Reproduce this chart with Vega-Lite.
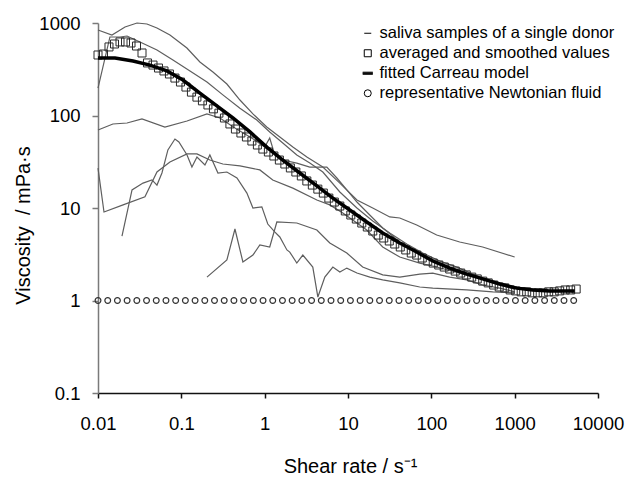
{
 "$schema": "https://vega.github.io/schema/vega-lite/v6.json",
 "width": 500, "height": 370,
 "autosize": "none",
 "padding": {"left": 98, "top": 23, "right": 29, "bottom": 84},
 "background": "white",
 "config": {
  "view": {"stroke": null},
  "font": "Liberation Sans",
  "axis": {"grid": false, "labelFont": "Liberation Sans", "titleFont": "Liberation Sans", "labelColor": "#000", "titleColor": "#000", "titleFontWeight": "normal", "labelFlush": false, "labelOverlap": false}
 },
 "datasets": {
  "samples": [
   {"s":"A","x":0.01,"y":840},{"s":"A","x":0.0147,"y":741},{"s":"A","x":0.0211,"y":905},{"s":"A","x":0.0294,"y":1000},{"s":"A","x":0.0387,"y":975},{"s":"A","x":0.051,"y":883},{"s":"A","x":0.073,"y":741},{"s":"A","x":0.1167,"y":537},{"s":"A","x":0.167,"y":379},{"s":"A","x":0.2394,"y":295},{"s":"A","x":0.352,"y":219},{"s":"A","x":0.505,"y":147},{"s":"A","x":0.723,"y":104},{"s":"A","x":1.06,"y":75.1},{"s":"A","x":1.52,"y":58.6},{"s":"A","x":2.18,"y":45.6},{"s":"A","x":3.21,"y":35.6},{"s":"A","x":4.99,"y":27.7},{"s":"A","x":7.98,"y":18.6},{"s":"A","x":12.8,"y":12.2},{"s":"A","x":19.8,"y":10.0},{"s":"A","x":31.7,"y":8.0},{"s":"A","x":41.8,"y":7.8},{"s":"A","x":66.8,"y":6.55},{"s":"A","x":116,"y":5.1},{"s":"A","x":219,"y":4.29},{"s":"A","x":413,"y":3.79},{"s":"A","x":1000,"y":2.95},
   {"s":"B","x":0.01,"y":198},{"s":"B","x":0.0139,"y":706},{"s":"B","x":0.0184,"y":706},{"s":"B","x":0.0223,"y":723},{"s":"B","x":0.0319,"y":624},{"s":"B","x":0.051,"y":511},{"s":"B","x":0.0793,"y":398},{"s":"B","x":0.127,"y":303},{"s":"B","x":0.203,"y":230},{"s":"B","x":0.315,"y":167},{"s":"B","x":0.505,"y":120},{"s":"B","x":0.805,"y":89.3},{"s":"B","x":1.15,"y":66.4},{"s":"B","x":1.65,"y":50.5},{"s":"B","x":2.43,"y":37.4},{"s":"B","x":3.48,"y":30.6},{"s":"B","x":4.99,"y":24.5},{"s":"B","x":7.98,"y":14.9},{"s":"B","x":12.8,"y":10.0},{"s":"B","x":19.8,"y":7.23},{"s":"B","x":31.7,"y":5.37},{"s":"B","x":50.7,"y":4.08},{"s":"B","x":78.9,"y":3.26},{"s":"B","x":126,"y":2.67},{"s":"B","x":202,"y":2.3},{"s":"B","x":313,"y":1.93},{"s":"B","x":501,"y":1.62},{"s":"B","x":1000,"y":1.33},
   {"s":"D","x":0.01,"y":69.7},{"s":"D","x":0.0151,"y":80.9},{"s":"D","x":0.0223,"y":83.0},{"s":"D","x":0.0337,"y":91.7},{"s":"D","x":0.0635,"y":75.1},{"s":"D","x":0.117,"y":87.3},{"s":"D","x":0.203,"y":104},{"s":"D","x":0.29,"y":94},{"s":"D","x":0.44,"y":73.3},{"s":"D","x":0.764,"y":54.3},{"s":"D","x":1.0,"y":45.6},{"s":"D","x":1.15,"y":57.1},{"s":"D","x":1.29,"y":40.3},{"s":"D","x":1.65,"y":33.0},{"s":"D","x":2.43,"y":30.6},{"s":"D","x":3.48,"y":27.7},{"s":"D","x":5.57,"y":27.7},{"s":"D","x":7.35,"y":21.1},{"s":"D","x":9.68,"y":15.7},{"s":"D","x":12.8,"y":11.6},{"s":"D","x":16.8,"y":9.06},{"s":"D","x":26.1,"y":6.08},{"s":"D","x":41.8,"y":4.29},{"s":"D","x":66.8,"y":3.34},{"s":"D","x":104,"y":2.74},{"s":"D","x":166,"y":2.3},{"s":"D","x":266,"y":1.98},{"s":"D","x":413,"y":1.71},{"s":"D","x":661,"y":1.47},{"s":"D","x":1000,"y":1.33},
   {"s":"E","x":0.01,"y":27.0},{"s":"E","x":0.0118,"y":9.06},{"s":"E","x":0.02,"y":10.8},{"s":"E","x":0.0366,"y":13.2},{"s":"E","x":0.051,"y":24.5},{"s":"E","x":0.073,"y":31.4},{"s":"E","x":0.117,"y":38.4},{"s":"E","x":0.154,"y":38.4},{"s":"E","x":0.22,"y":33.0},{"s":"E","x":0.315,"y":29.9},{"s":"E","x":0.505,"y":28.5},{"s":"E","x":0.875,"y":25.8},{"s":"E","x":1.25,"y":20.1},{"s":"E","x":2.18,"y":16.4},{"s":"E","x":4.23,"y":12.2},{"s":"E","x":6.05,"y":10.8},{"s":"E","x":8.66,"y":8.83},{"s":"E","x":16.8,"y":5.78},{"s":"E","x":26.1,"y":3.79},{"s":"E","x":41.8,"y":2.95},{"s":"E","x":72.6,"y":2.54},{"s":"E","x":104,"y":2.36},{"s":"E","x":266,"y":1.89},{"s":"E","x":661,"y":1.55},{"s":"E","x":1000,"y":1.4},
   {"s":"F","x":0.0194,"y":4.98},{"s":"F","x":0.0256,"y":15.7},{"s":"F","x":0.0347,"y":18.6},{"s":"F","x":0.0444,"y":20.1},{"s":"F","x":0.051,"y":17.7},{"s":"F","x":0.0585,"y":23.9},{"s":"F","x":0.069,"y":42.4},{"s":"F","x":0.0838,"y":55.7},{"s":"F","x":0.0935,"y":51.7},{"s":"F","x":0.117,"y":37.4},{"s":"F","x":0.134,"y":27.7},{"s":"F","x":0.154,"y":35.6},{"s":"F","x":0.192,"y":29.2},{"s":"F","x":0.22,"y":37.4},{"s":"F","x":0.275,"y":23.9},{"s":"F","x":0.352,"y":24.5},{"s":"F","x":0.465,"y":21.1},{"s":"F","x":0.612,"y":14.5},{"s":"F","x":0.723,"y":10.0},{"s":"F","x":0.925,"y":10.3},{"s":"F","x":1.09,"y":6.71},{"s":"F","x":1.32,"y":5.51},{"s":"F","x":1.52,"y":4.86},{"s":"F","x":1.85,"y":3.52},{"s":"F","x":2.0,"y":3.34},{"s":"F","x":2.43,"y":2.54},{"s":"F","x":2.87,"y":3.1},{"s":"F","x":3.78,"y":2.3},{"s":"F","x":4.35,"y":1.09},{"s":"F","x":5.27,"y":1.79},{"s":"F","x":6.58,"y":2.3},{"s":"F","x":7.98,"y":2.03},{"s":"F","x":9.68,"y":2.24},{"s":"F","x":12.8,"y":1.98},{"s":"F","x":18.3,"y":1.79},{"s":"F","x":26.1,"y":1.67},{"s":"F","x":41.8,"y":1.55},{"s":"F","x":72.6,"y":1.4},{"s":"F","x":104,"y":1.36},{"s":"F","x":266,"y":1.3},{"s":"F","x":545,"y":1.24},{"s":"F","x":1000,"y":1.21},
   {"s":"G","x":0.203,"y":1.79},{"s":"G","x":0.352,"y":2.74},{"s":"G","x":0.44,"y":5.93},{"s":"G","x":0.548,"y":2.61},{"s":"G","x":0.723,"y":3.1},{"s":"G","x":0.875,"y":3.98},{"s":"G","x":1.15,"y":3.79},{"s":"G","x":1.4,"y":7.06},{"s":"G","x":2.43,"y":6.88},{"s":"G","x":4.23,"y":5.78},{"s":"G","x":6.05,"y":4.19},{"s":"G","x":9.68,"y":3.26},{"s":"G","x":15.0,"y":2.3},{"s":"G","x":26.1,"y":1.89},{"s":"G","x":41.8,"y":1.79},{"s":"G","x":72.6,"y":1.93},{"s":"G","x":104,"y":1.98},{"s":"G","x":166,"y":1.79},{"s":"G","x":266,"y":1.67},{"s":"G","x":413,"y":1.47},{"s":"G","x":661,"y":1.36},{"s":"G","x":1000,"y":1.24}
  ],
  "averaged": [
   {"x":0.01,"y":451},{"x":0.01164,"y":462},{"x":0.01355,"y":551},{"x":0.01578,"y":593},{"x":0.01837,"y":624},{"x":0.02138,"y":624},{"x":0.02489,"y":608},{"x":0.02897,"y":564},{"x":0.03373,"y":474},{"x":0.03926,"y":370},
   {"x":0.0457,"y":351},{"x":0.0532,"y":326},{"x":0.0619,"y":303},{"x":0.072,"y":281},{"x":0.0838,"y":254},{"x":0.0976,"y":230},{"x":0.1136,"y":203},{"x":0.1322,"y":179},{"x":0.1539,"y":158},{"x":0.1791,"y":144},
   {"x":0.2085,"y":130},{"x":0.2427,"y":118},{"x":0.2825,"y":106},{"x":0.3289,"y":94},{"x":0.3828,"y":81},{"x":0.4456,"y":71.4},{"x":0.5187,"y":64.7},{"x":0.6038,"y":58.6},{"x":0.7028,"y":53.0},{"x":0.818,"y":48.0},
   {"x":0.952,"y":43.4},{"x":1.108,"y":40.3},{"x":1.29,"y":36.5},{"x":1.501,"y":33.0},{"x":1.747,"y":29.9},{"x":2.034,"y":27.1},{"x":2.367,"y":24.5},{"x":2.755,"y":22.2},{"x":3.207,"y":19.6},{"x":3.733,"y":17.7},
   {"x":4.345,"y":16.0},{"x":5.058,"y":14.5},{"x":5.888,"y":12.8},{"x":6.853,"y":11.6},{"x":7.977,"y":10.5},{"x":9.285,"y":9.29},{"x":10.81,"y":8.4},{"x":12.58,"y":7.6},{"x":14.64,"y":6.88},{"x":17.04,"y":6.23},
   {"x":19.84,"y":5.64},{"x":23.09,"y":5.1},{"x":26.88,"y":4.74},{"x":31.29,"y":4.4},{"x":36.42,"y":4.08},{"x":42.39,"y":3.79},{"x":49.35,"y":3.52},{"x":57.44,"y":3.26},{"x":66.86,"y":3.1},{"x":77.83,"y":2.88},
   {"x":90.59,"y":2.67},{"x":105.4,"y":2.54},{"x":122.7,"y":2.42},{"x":142.9,"y":2.3},{"x":166.3,"y":2.19},{"x":193.6,"y":2.08},{"x":225.3,"y":1.98},{"x":262.3,"y":1.89},{"x":305.3,"y":1.79},{"x":355.4,"y":1.71},
   {"x":413.7,"y":1.62},{"x":481.5,"y":1.55},{"x":560.5,"y":1.47},{"x":652.4,"y":1.4},{"x":759.4,"y":1.37},{"x":883.9,"y":1.3},{"x":1029,"y":1.27},{"x":1198,"y":1.24},{"x":1394,"y":1.24},{"x":1623,"y":1.21},
   {"x":1889,"y":1.21},{"x":2199,"y":1.21},{"x":2559,"y":1.24},{"x":2979,"y":1.24},{"x":3468,"y":1.27},{"x":4036,"y":1.3},{"x":4698,"y":1.3},{"x":5469,"y":1.33}
  ],
  "carreau": [
   {"x":0.01,"y":419},{"x":0.016,"y":419},{"x":0.0263,"y":388},{"x":0.042,"y":351},{"x":0.0671,"y":303},{"x":0.1045,"y":242},{"x":0.167,"y":175},{"x":0.267,"y":127},{"x":0.416,"y":94},{"x":0.666,"y":66.4},{"x":1.06,"y":45.6},{"x":1.65,"y":33.0},{"x":2.64,"y":23.9},{"x":4.23,"y":17.3},{"x":6.58,"y":12.8},{"x":10.5,"y":9.51},{"x":16.8,"y":7.06},{"x":26.1,"y":5.37},{"x":41.8,"y":4.19},{"x":66.8,"y":3.34},{"x":104,"y":2.67},{"x":166,"y":2.24},{"x":266,"y":1.93},{"x":413,"y":1.71},{"x":661,"y":1.51},{"x":1057,"y":1.36},{"x":1644,"y":1.3},{"x":2630,"y":1.27},{"x":5250,"y":1.27}
  ],
  "newtonian": [
   {"x":0.01,"y":1},{"x":0.01308,"y":1},{"x":0.0171,"y":1},{"x":0.02236,"y":1},{"x":0.02924,"y":1},{"x":0.03824,"y":1},{"x":0.05,"y":1},{"x":0.0654,"y":1},{"x":0.08551,"y":1},{"x":0.1118,"y":1},
   {"x":0.1462,"y":1},{"x":0.1912,"y":1},{"x":0.25,"y":1},{"x":0.327,"y":1},{"x":0.4276,"y":1},{"x":0.5592,"y":1},{"x":0.7311,"y":1},{"x":0.9561,"y":1},{"x":1.25,"y":1},{"x":1.635,"y":1},
   {"x":2.138,"y":1},{"x":2.796,"y":1},{"x":3.656,"y":1},{"x":4.781,"y":1},{"x":6.252,"y":1},{"x":8.176,"y":1},{"x":10.69,"y":1},{"x":13.98,"y":1},{"x":18.28,"y":1},{"x":23.9,"y":1},
   {"x":31.26,"y":1},{"x":40.88,"y":1},{"x":53.46,"y":1},{"x":69.91,"y":1},{"x":91.41,"y":1},{"x":119.5,"y":1},{"x":156.3,"y":1},{"x":204.4,"y":1},{"x":267.3,"y":1},{"x":349.5,"y":1},
   {"x":457.1,"y":1},{"x":597.7,"y":1},{"x":781.6,"y":1},{"x":1022,"y":1},{"x":1337,"y":1},{"x":1748,"y":1},{"x":2286,"y":1},{"x":2989,"y":1},{"x":3908,"y":1},{"x":5111,"y":1}
  ]
 },
 "layer": [
  {
   "data": {"name": "samples"},
   "mark": {"type": "line", "color": "#5e5e5e", "strokeWidth": 1.2},
   "encoding": {
    "x": {"field": "x", "type": "quantitative", "scale": {"type": "log", "domain": [0.01, 10000], "nice": false},
     "axis": {"values": [0.01, 0.1, 1, 10, 100, 1000, 10000], "labelExpr": "format(datum.value, '~g')", "title": "Shear rate / s⁻¹", "tickSize": 5, "labelPadding": 16, "labelFontSize": 18.5, "titleFontSize": 20, "domainColor": "#111", "tickColor": "#111", "domainWidth": 1.5, "tickWidth": 1.5, "titleBaseline": "alphabetic", "titleX": 252, "titleY": 79.5}},
    "y": {"field": "y", "type": "quantitative", "scale": {"type": "log", "domain": [0.1, 1000], "nice": false},
     "axis": {"values": [0.1, 1, 10, 100, 1000], "labelExpr": "format(datum.value, '~g')", "title": "Viscosity\u00a0 / mPa·s", "tickSize": 6, "labelPadding": 12, "labelFontSize": 18.5, "titleFontSize": 20, "domainColor": "#7a7a7a", "tickColor": "#7a7a7a", "domainWidth": 1.5, "tickWidth": 1.5, "titleBaseline": "alphabetic", "titleX": -68.5, "titleY": 202}},
    "detail": {"field": "s", "type": "nominal"}
   }
  },
  {
   "data": {"name": "newtonian"},
   "mark": {"type": "point", "filled": false, "stroke": "#333", "strokeWidth": 1.2, "size": 33, "opacity": 1},
   "encoding": {
    "x": {"field": "x", "type": "quantitative"},
    "y": {"field": "y", "type": "quantitative"},
    "shape": {"datum": "representative Newtonian fluid", "type": "nominal",
     "scale": {"domain": ["saliva samples of a single donor", "averaged and smoothed values", "fitted Carreau model", "representative Newtonian fluid"], "range": ["stroke", "square", "M-1.45,-0.3H1.45M-1.45,-0.1H1.45M-1.45,0.1H1.45M-1.45,0.3H1.45", "circle"]},
     "legend": {"title": null, "orient": "none", "legendX": 261.5, "legendY": 2, "labelFontSize": 16.5, "labelFont": "Liberation Sans", "labelColor": "#000", "symbolSize": 49, "labelOffset": 3.5, "rowPadding": 3, "symbolStrokeColor": "#000", "symbolStrokeWidth": 1, "padding": 0, "labelLimit": 400,
      "encode": {"symbols": {"update": {"fill": {"value": "transparent"}, "stroke": {"value": "#000"}, "opacity": {"value": 1}}}}}
    }
   }
  },
  {
   "data": {"name": "averaged"},
   "mark": {"type": "point", "filled": false, "stroke": "#2a2a2a", "strokeWidth": 1, "size": 64, "opacity": 1},
   "encoding": {
    "x": {"field": "x", "type": "quantitative"},
    "y": {"field": "y", "type": "quantitative"},
    "shape": {"datum": "averaged and smoothed values", "type": "nominal"}
   }
  },
  {
   "data": {"name": "carreau"},
   "mark": {"type": "line", "color": "#000", "strokeWidth": 3.5},
   "encoding": {
    "x": {"field": "x", "type": "quantitative"},
    "y": {"field": "y", "type": "quantitative"}
   }
  }
 ]
}
